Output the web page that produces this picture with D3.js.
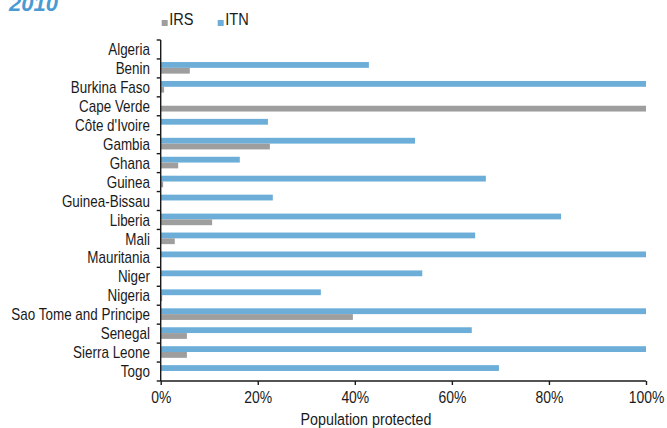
<!DOCTYPE html>
<head>
<meta charset="utf-8">
<style>
body{
  margin:0;
  background:white;
}
text{
  font-family: "Liberation Sans", Arial, sans-serif;
  fill:#1a1a1a;
}
.axis path, .axis line{
  stroke:#1a1a1a;
  stroke-width:1.4px;
}
</style>
</head>
<body>
<svg width="667" height="428"></svg>
<script src="https://d3js.org/d3.v7.min.js"></script>
<script>

// countries, top to bottom
var countries = ["Algeria","Benin","Burkina Faso","Cape Verde","Côte d'Ivoire","Gambia","Ghana",
  "Guinea","Guinea-Bissau","Liberia","Mali","Mauritania","Niger","Nigeria",
  "Sao Tome and Principe","Senegal","Sierra Leone","Togo"];

// share of population protected (%)
var itn = [0, 42.9, 100, 0, 22.1, 52.4, 16.3, 67.0, 23.1, 82.5, 64.8, 100, 53.9, 33.0, 100, 64.1, 100, 69.7];
var irs = [0, 6.0, 0.7, 100, 0, 22.5, 3.6, 0.5, 0, 10.6, 2.9, 0, 0, 0.3, 39.6, 5.4, 5.4, 0];

var xTicks = [0, 20, 40, 60, 80, 100];

var series = [
  {key: "IRS", values: irs, color: "#9e9e9e"},
  {key: "ITN", values: itn, color: "#6caed8"}
];

// the original uses a condensed face, so squeeze the text horizontally
var narrow = 0.84;

var svg = d3.select("svg");

var x = d3.scaleLinear().domain([0, 100]).range([160.7, 646]);
var y = d3.scaleBand().domain(countries).range([40, 381]);

var barH = 5.8;

// bars: ITN on top, IRS below
var g = svg.append("g");
countries.forEach(function(c, i) {
  var top = y(c) + 3.1;
  g.append("rect")
    .attr("x", x(0))
    .attr("y", top)
    .attr("width", x(itn[i]) - x(0))
    .attr("height", barH)
    .attr("fill", series[1].color);
  g.append("rect")
    .attr("x", x(0))
    .attr("y", top + barH)
    .attr("width", x(irs[i]) - x(0))
    .attr("height", barH)
    .attr("fill", series[0].color);
});

// y axis with ticks on the band edges
var yAxis = svg.append("g").attr("class", "axis");
yAxis.append("line")
  .attr("x1", x(0)).attr("x2", x(0))
  .attr("y1", y.range()[0]).attr("y2", y.range()[1]);
var edges = countries.map(function(c) { return y(c); }).concat([y.range()[1]]);
yAxis.selectAll(".edge").data(edges).enter().append("line")
  .attr("class", "edge")
  .attr("x1", x(0) - 4).attr("x2", x(0))
  .attr("y1", d => d).attr("y2", d => d);
yAxis.selectAll(".lbl").data(countries).enter().append("text")
  .attr("class", "lbl")
  .attr("transform", d => "translate(150," + (y(d) + y.bandwidth() / 2) + ") scale(" + narrow + ",1)")
  .attr("dy", "0.35em")
  .attr("text-anchor", "end")
  .style("font-size", "16px")
  .text(d => d);

// x axis
var xAxis = svg.append("g")
  .attr("class", "axis")
  .attr("transform", "translate(0," + y.range()[1] + ")")
  .call(d3.axisBottom(x).tickValues(xTicks).tickSize(4).tickSizeOuter(0).tickFormat(d => d + "%"));
xAxis.select(".domain").attr("d", "M" + x(0) + ",0H" + x(100));
xAxis.selectAll("text")
  .attr("y", 10)
  .attr("transform", "scale(0.82,1)")
  .style("font-size", "17px")
  .style("font-family", "Liberation Sans, Arial, sans-serif")
  .attr("fill", "#1a1a1a");

svg.append("text")
  .attr("transform", "translate(366,425) scale(" + narrow + ",1)")
  .attr("text-anchor", "middle")
  .style("font-size", "17px")
  .text("Population protected");

// title (cut at the top edge)
svg.append("text")
  .attr("x", 9)
  .attr("y", 11)
  .style("font-size", "22px")
  .style("font-weight", "bold")
  .style("font-style", "italic")
  .style("fill", "#4a9ad4")
  .text("2010");

// legend
var legendX = [161.7, 217.7];
var legend = svg.selectAll(".legend").data(series).enter().append("g")
  .attr("class", "legend")
  .attr("transform", (d, i) => "translate(" + legendX[i] + ",0)");
legend.append("rect")
  .attr("x", 0).attr("y", 20)
  .attr("width", 6).attr("height", 6)
  .attr("fill", d => d.color);
legend.append("text")
  .attr("transform", "translate(7.5,25) scale(0.86,1)")
  .style("font-size", "17px")
  .text(d => d.key);

</script>
</body>
